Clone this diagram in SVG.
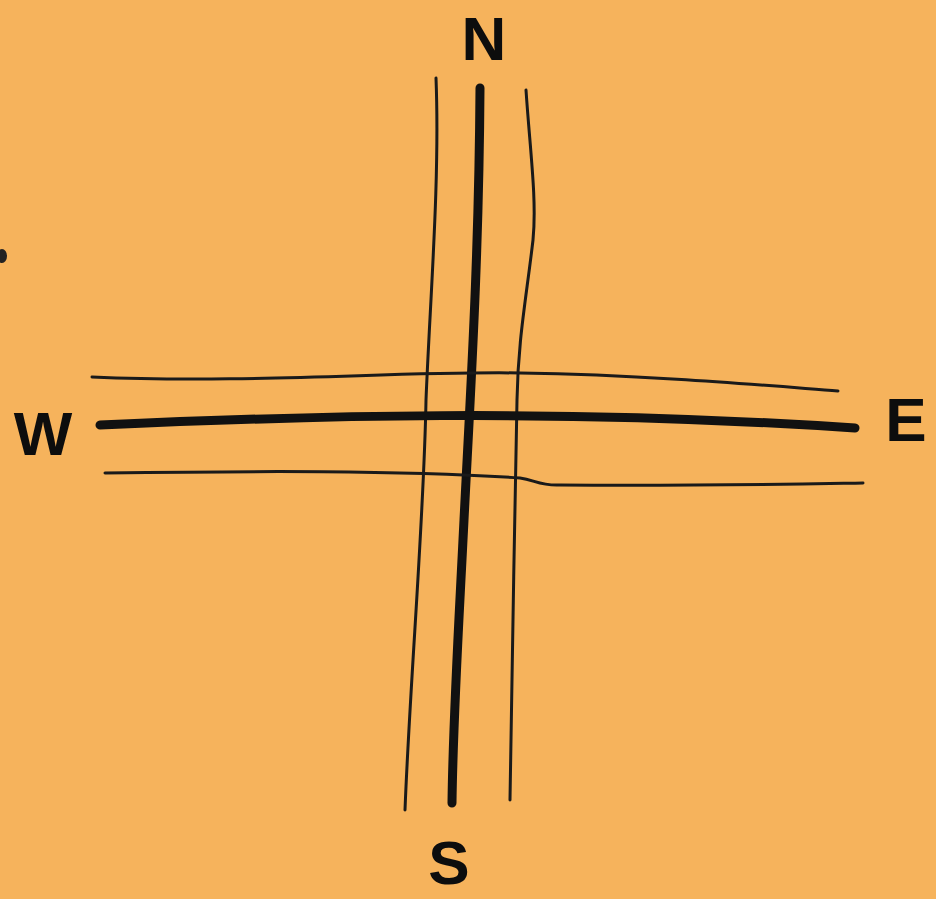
<svg xmlns="http://www.w3.org/2000/svg" width="936" height="899" viewBox="0 0 936 899">
<style>
.thick{fill:none;stroke:#111;stroke-width:9;stroke-linecap:round;stroke-linejoin:round}
.thin{fill:none;stroke:#1a1a1a;stroke-width:3;stroke-linecap:round;stroke-linejoin:round}
.lbl{font-family:"Liberation Sans","DejaVu Sans",sans-serif;font-weight:bold;font-size:62px;fill:#0d0d0d;text-anchor:middle}
</style>
<rect width="936" height="899" fill="#F6B35C"/>
<ellipse cx="2" cy="256" rx="5" ry="7" fill="#222"/>
<g id="connectors">
<path class="thick" d="M480,88 C479,260 470,400 464,520 C458,640 453,720 452,803"/>
<path class="thin" d="M436,78 C440,180 430,300 426,400 C424,520 410,680 405,810"/>
<path class="thin" d="M526,90 C530,150 537,200 533,240 C526,300 518,340 517,400 C515,520 511,700 510,800"/>
<path class="thick" d="M100,425 C300,416 560,408 855,428"/>
<path class="thin" d="M92,377 C250,384 400,371 520,373 C650,375 760,385 838,391"/>
<path class="thin" d="M105,473 C250,471 400,470 520,478 C535,480 540,486 560,485 C700,486 800,484 863,483"/>
</g>
<g id="north"><text class="lbl" x="484" y="60">N</text></g>
<g id="south"><text class="lbl" x="449" y="884">S</text></g>
<g id="west"><text class="lbl" x="43" y="455">W</text></g>
<g id="east"><text class="lbl" x="906" y="441">E</text></g>
</svg>
